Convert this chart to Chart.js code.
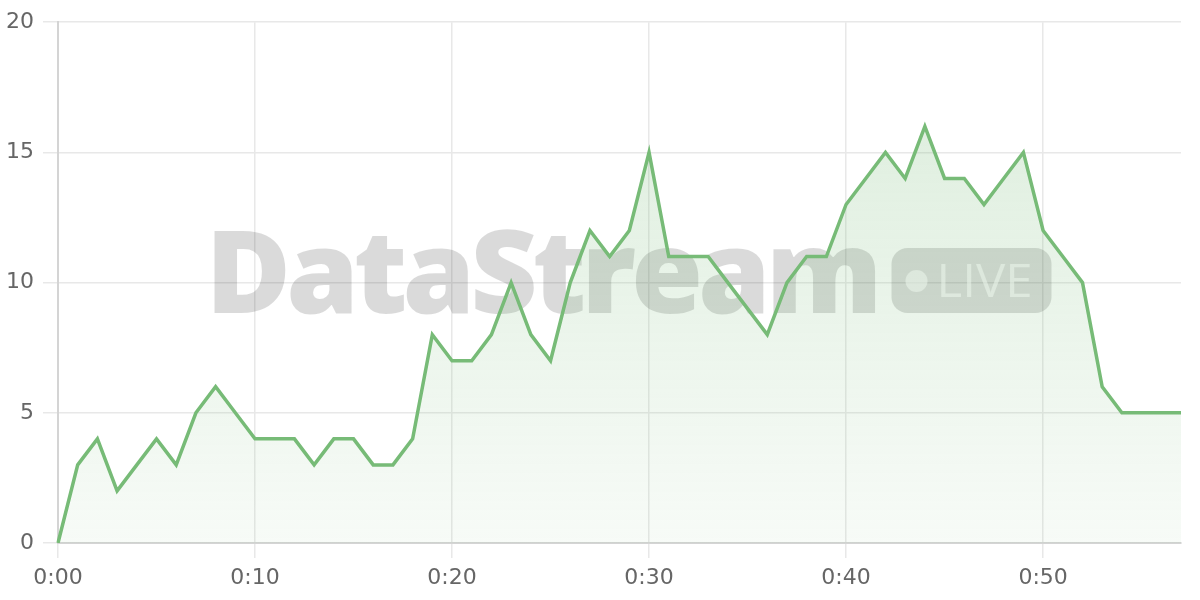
<!DOCTYPE html>
<html>
<head>
<meta charset="utf-8">
<script src="https://cdn.jsdelivr.net/npm/chart.js@4"></script>
<style>
html,body{margin:0;padding:0;background:#fff;}
#wrap{width:1200px;height:600px;position:relative;}
</style>
</head>
<body>
<div id="wrap"><canvas id="c" width="1200" height="600"></canvas></div>
<script>
const minutes = [0,1,2,3,4,5,6,7,8,9,10,11,12,13,14,15,16,17,18,19,20,21,22,23,24,25,26,27,28,29,30,31,32,33,34,35,36,37,38,39,40,41,42,43,44,45,46,47,48,49,50,51,52,53,54,55,56,57];
const values = [0,3,4,2,3,4,3,5,6,5,4,4,4,3,4,4,3,3,4,8,7,7,8,10,8,7,10,12,11,12,15,11,11,11,10,9,8,10,11,11,13,14,15,14,16,14,14,13,14,15,12,11,10,6,5,5,5,5];
const yTicks = [0,5,10,15,20];
const watermarkText = "DataStream";
const badgeText = "LIVE";

const labels = minutes.map(m => Math.floor(m/60) + ":" + String(m%60).padStart(2,"0"));

const watermark = {
  id: "watermark",
  beforeDatasetsDraw(chart) {
    const {ctx, chartArea} = chart;
    const cx = (chartArea.left + chartArea.right) / 2 + 12;
    const baseY = 313;
    ctx.save();
    ctx.fillStyle = "rgba(0,0,0,0.145)";
    ctx.font = "800 116px 'Open Sans', 'Liberation Sans', sans-serif";
    try { ctx.letterSpacing = "-5px"; } catch (e) {}
    ctx.textBaseline = "alphabetic";
    const tw = ctx.measureText(watermarkText).width;
    const targetW = 672;
    const sx = targetW / tw;
    const totalLeft = cx - 426;
    ctx.save();
    ctx.translate(totalLeft, baseY);
    ctx.scale(sx, 1);
    ctx.fillText(watermarkText, 0, 0);
    ctx.restore();
    try { ctx.letterSpacing = "0px"; } catch (e) {}
    // badge
    const bx = totalLeft + 686, by = 248, bw = 160, bh = 65, r = 16;
    ctx.beginPath();
    ctx.moveTo(bx + r, by);
    ctx.arcTo(bx + bw, by, bx + bw, by + bh, r);
    ctx.arcTo(bx + bw, by + bh, bx, by + bh, r);
    ctx.arcTo(bx, by + bh, bx, by, r);
    ctx.arcTo(bx, by, bx + bw, by, r);
    ctx.closePath();
    ctx.fill();
    ctx.fillStyle = "rgba(255,255,255,0.6)";
    ctx.beginPath();
    ctx.arc(bx + 25, by + 33, 11, 0, Math.PI * 2);
    ctx.fill();
    ctx.font = "500 46px 'Open Sans', 'Liberation Sans', sans-serif";
    const lw = ctx.measureText(badgeText).width;
    ctx.save();
    ctx.translate(bx + 45, by + 49);
    ctx.scale(96 / lw, 1);
    ctx.fillText(badgeText, 0, 0);
    ctx.restore();
    ctx.restore();
  }
};

const ctx = document.getElementById("c").getContext("2d");
const grad = ctx.createLinearGradient(0, 20, 0, 543);
grad.addColorStop(0, "rgba(122,187,122,0.28)");
grad.addColorStop(1, "rgba(122,187,122,0.06)");

const tickFont = { family: "'DejaVu Sans', sans-serif", size: 22 };

new Chart(ctx, {
  type: "line",
  data: {
    labels: labels,
    datasets: [{
      data: values,
      borderColor: "#77bb77",
      borderWidth: 3.5,
      backgroundColor: grad,
      fill: true,
      tension: 0,
      pointRadius: 0,
      pointHoverRadius: 0
    }]
  },
  options: {
    responsive: false,
    animation: false,
    devicePixelRatio: 1,
    layout: { padding: { top: 9, right: 19, left: 0, bottom: 0 } },
    plugins: { legend: { display: false }, tooltip: { enabled: false } },
    scales: {
      x: {
        offset: false,
        border: { color: "#d4d4d4", width: 2 },
        grid: {
          color: c => (c.index % 10 === 0 ? "#e8e8e8" : "rgba(0,0,0,0)"),
          tickLength: 15,
          lineWidth: 1.5
        },
        ticks: {
          autoSkip: false,
          maxRotation: 0,
          color: "#666",
          padding: 7,
          font: tickFont,
          callback: function(v, i) { return i % 10 === 0 ? labels[i] : ""; }
        },
        afterFit: s => { s.height = 57; }
      },
      y: {
        min: 0, max: 20,
        border: { color: "#d4d4d4", width: 2 },
        grid: { color: "#e8e8e8", tickLength: 15, lineWidth: 1.5 },
        afterBuildTicks: s => { s.ticks = yTicks.map(v => ({ value: v })); },
        ticks: {
          color: "#666",
          padding: 9,
          font: tickFont
        },
        afterFit: s => { s.width = 58; }
      }
    }
  },
  plugins: [watermark]
});
</script>
</body>
</html>
